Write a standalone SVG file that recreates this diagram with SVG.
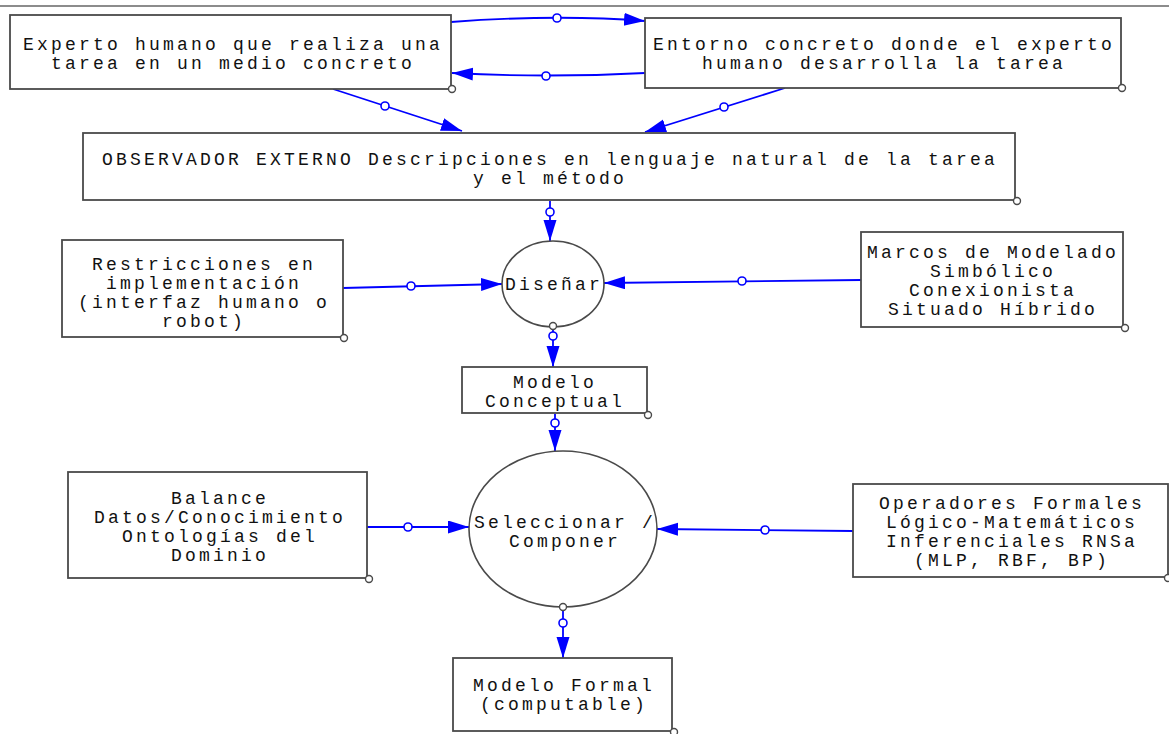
<svg xmlns="http://www.w3.org/2000/svg" width="1169" height="734" viewBox="0 0 1169 734">
  <style>
    .box { fill: #ffffff; stroke: #4a4a4a; stroke-width: 1.8; }
    .proc { fill: #ffffff; stroke: #4a4a4a; stroke-width: 1.6; }
    .corner { fill: #ffffff; stroke: #4a4a4a; stroke-width: 1.4; }
    .link { fill: none; stroke: #0000ff; stroke-width: 1.8; }
    .dot { fill: #ffffff; stroke: #0000ff; stroke-width: 1.6; }
    .lbl { font-family: "Liberation Mono", "DejaVu Sans Mono", monospace; font-size: 18px; letter-spacing: 3.2px; fill: #111111; text-anchor: middle; }
  </style>
  <defs>
    <marker id="arrow" markerUnits="userSpaceOnUse" markerWidth="22" markerHeight="14" refX="21" refY="6.5" orient="auto">
      <path d="M0,0 L21,6.5 L0,13 z" fill="#0000ff"/>
    </marker>
  </defs>

  <rect width="1169" height="734" fill="#ffffff"/>
  <line x1="0" y1="6" x2="1169" y2="6" stroke="#666666" stroke-width="1.5"/>

  <!-- connectors -->
  <g id="connectors">
    <path class="link" d="M451,22 Q558,14 645,21" marker-end="url(#arrow)"/>
    <circle class="dot" cx="557" cy="18" r="4"/>
    <path class="link" d="M645,73 Q548,78 452,73" marker-end="url(#arrow)"/>
    <circle class="dot" cx="546" cy="76" r="4"/>
    <path class="link" d="M333,89 L462,131" marker-end="url(#arrow)"/>
    <circle class="dot" cx="385" cy="106" r="4"/>
    <path class="link" d="M785,88 L645,132" marker-end="url(#arrow)"/>
    <circle class="dot" cx="724" cy="107" r="4"/>
    <path class="link" d="M550,201 L550,241" marker-end="url(#arrow)"/>
    <circle class="dot" cx="550" cy="212" r="4"/>
    <path class="link" d="M343,288 L502,284" marker-end="url(#arrow)"/>
    <circle class="dot" cx="411" cy="286" r="4"/>
    <path class="link" d="M861,280 L604,283" marker-end="url(#arrow)"/>
    <circle class="dot" cx="742" cy="281" r="4"/>
    <path class="link" d="M553,327 L553,367" marker-end="url(#arrow)"/>
    <circle class="dot" cx="553" cy="336" r="4"/>
    <path class="link" d="M555,414 L555,451" marker-end="url(#arrow)"/>
    <circle class="dot" cx="555" cy="423" r="4"/>
    <path class="link" d="M367,527 L469,527" marker-end="url(#arrow)"/>
    <circle class="dot" cx="408" cy="527" r="4"/>
    <path class="link" d="M853,531 L657,529" marker-end="url(#arrow)"/>
    <circle class="dot" cx="765" cy="530" r="4"/>
    <path class="link" d="M563,608 L563,658" marker-end="url(#arrow)"/>
    <circle class="dot" cx="563" cy="623" r="4"/>
  </g>

  <g id="experto">
    <rect class="box" x="10" y="15" width="441" height="74"/>
    <text class="lbl" x="233" y="50">Experto humano que realiza una</text>
    <text class="lbl" x="233" y="69">tarea en un medio concreto</text>
    <circle class="corner" cx="452" cy="89" r="3.5"/>
  </g>

  <g id="entorno">
    <rect class="box" x="645" y="18" width="476" height="70"/>
    <text class="lbl" x="884" y="50">Entorno concreto donde el experto</text>
    <text class="lbl" x="884" y="69">humano desarrolla la tarea</text>
    <circle class="corner" cx="1122" cy="88" r="3.5"/>
  </g>

  <g id="observador">
    <rect class="box" x="83" y="133" width="932" height="67"/>
    <text class="lbl" x="550" y="165">OBSERVADOR EXTERNO Descripciones en lenguaje natural de la tarea</text>
    <text class="lbl" x="550" y="184">y el método</text>
    <circle class="corner" cx="1017" cy="201" r="3.5"/>
  </g>

  <g id="disenar">
    <ellipse class="proc" cx="553" cy="284" rx="51" ry="43"/>
    <text class="lbl" x="554" y="290">Diseñar</text>
    <circle class="corner" cx="553" cy="326" r="3.5"/>
  </g>

  <g id="restricciones">
    <rect class="box" x="62" y="240" width="281" height="97"/>
    <text class="lbl" x="204" y="270">Restricciones en</text>
    <text class="lbl" x="204" y="289">implementación</text>
    <text class="lbl" x="204" y="308">(interfaz humano o</text>
    <text class="lbl" x="204" y="327">robot)</text>
    <circle class="corner" cx="344" cy="338" r="3.5"/>
  </g>

  <g id="marcos">
    <rect class="box" x="861" y="232" width="262" height="95"/>
    <text class="lbl" x="993" y="258">Marcos de Modelado</text>
    <text class="lbl" x="993" y="277">Simbólico</text>
    <text class="lbl" x="993" y="296">Conexionista</text>
    <text class="lbl" x="993" y="315">Situado Híbrido</text>
    <circle class="corner" cx="1125" cy="328" r="3.5"/>
  </g>

  <g id="modelo-conceptual">
    <rect class="box" x="462" y="367" width="185" height="46"/>
    <text class="lbl" x="555" y="388">Modelo</text>
    <text class="lbl" x="555" y="407">Conceptual</text>
    <circle class="corner" cx="648" cy="415" r="3.5"/>
  </g>

  <g id="seleccionar">
    <ellipse class="proc" cx="563" cy="529" rx="94" ry="78"/>
    <text class="lbl" x="565" y="528">Seleccionar /</text>
    <text class="lbl" x="565" y="547">Componer</text>
    <circle class="corner" cx="563" cy="607" r="3.5"/>
  </g>

  <g id="balance">
    <rect class="box" x="68" y="472" width="299" height="106"/>
    <text class="lbl" x="220" y="504">Balance</text>
    <text class="lbl" x="220" y="523">Datos/Conocimiento</text>
    <text class="lbl" x="220" y="542">Ontologías del</text>
    <text class="lbl" x="220" y="561">Dominio</text>
    <circle class="corner" cx="369" cy="579" r="3.5"/>
  </g>

  <g id="operadores">
    <rect class="box" x="853" y="484" width="315" height="93"/>
    <text class="lbl" x="1012" y="509">Operadores Formales</text>
    <text class="lbl" x="1012" y="528">Lógico-Matemáticos</text>
    <text class="lbl" x="1012" y="547">Inferenciales RNSa</text>
    <text class="lbl" x="1012" y="566">(MLP, RBF, BP)</text>
    <circle class="corner" cx="1168" cy="578" r="3.5"/>
  </g>

  <g id="modelo-formal">
    <rect class="box" x="453" y="658" width="219" height="73"/>
    <text class="lbl" x="564" y="691">Modelo Formal</text>
    <text class="lbl" x="564" y="710">(computable)</text>
    <circle class="corner" cx="674" cy="732" r="3.5"/>
  </g>
</svg>
